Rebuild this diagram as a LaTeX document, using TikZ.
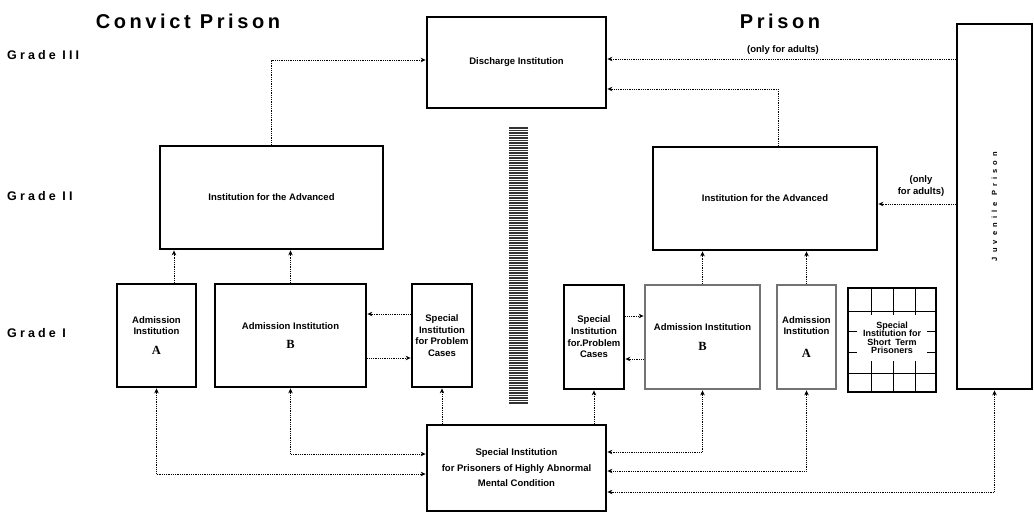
\documentclass[tikz,border=0pt]{standalone}
\usepackage{fontspec}
\setmainfont{Liberation Sans}
\newfontfamily\widefont[LetterSpace=18]{Liberation Sans}
\newfontfamily\widerfont[LetterSpace=25]{Liberation Sans}
\newfontfamily\widestfont[LetterSpace=55]{Liberation Sans}
\newfontfamily\letterfont{Liberation Serif}
\usetikzlibrary{arrows.meta}
\tikzstyle{inst}=[draw, line width=2.8pt, inner sep=0.5pt, align=center, font=\bfseries\fontsize{9.5}{11}\selectfont]
\tikzstyle{pale}=[inst, draw=black!55]
\tikzstyle{narrowinst}=[inst, font=\bfseries\fontsize{9.5}{11.6}\selectfont]
\tikzstyle{link}=[line width=0.7pt, dash pattern=on 0.8pt off 1pt, -{Stealth[length=5pt,width=4.5pt]}]
\tikzstyle{twoway}=[link, {Stealth[length=5pt,width=4.5pt]}-{Stealth[length=5pt,width=4.5pt]}]
\tikzstyle{grade}=[anchor=west, inner sep=0pt, font=\widerfont\bfseries\fontsize{12.5}{14}\selectfont]
\tikzstyle{heading}=[inner sep=0pt, font=\widefont\bfseries\fontsize{20}{24}\selectfont]
\tikzstyle{note}=[inner sep=1pt, align=center, font=\bfseries\fontsize{9.5}{11.5}\selectfont]
\newcommand{\bigletter}[1]{{\letterfont\bfseries\fontsize{12.5}{12.5}\selectfont #1}}

\begin{document}
\begin{tikzpicture}[x=1pt,y=-1pt]
    \useasboundingbox (0,0) rectangle (1034,513);
    % headings
    \node[heading] (convict) at (188,21) {Convict Prison};
    \node[heading] (prison)  at (780,21) {Prison};
    \node[grade] (g3) at (7,55)  {Grade III};
    \node[grade] (g2) at (7,196) {Grade II};
    \node[grade] (g1) at (7,333) {Grade I};

    % grade III and II
    \node[inst, minimum width=179, minimum height=91]  (dis)  at (516.5,62.5) {Discharge Institution};
    \node[inst, minimum width=223, minimum height=103] (advL) at (271.5,197.5) {Institution for the Advanced};
    \node[inst, minimum width=224, minimum height=103] (advR) at (765,198.5) {Institution for the Advanced};

    % grade I, convict side
    \node[inst, minimum width=79, minimum height=103]  (admAL) at (156.5,335.5) {Admission\\Institution\\[9pt]\bigletter{A}};
    \node[inst, minimum width=151, minimum height=103] (admBL) at (290.5,335.5) {Admission Institution\\[8pt]\bigletter{B}};
    \node[narrowinst, minimum width=60, minimum height=103] (probL) at (442,335.5) {Special\\Institution\\for Problem\\Cases};

    % grade I, prison side
    \node[narrowinst, minimum width=60, minimum height=104] (probR) at (594,337) {Special\\Institution\\for.Problem\\Cases};
    \node[pale, minimum width=115, minimum height=104] (admBR) at (702.5,337) {Admission Institution\\[9pt]\bigletter{B}};
    \node[pale, minimum width=59, minimum height=104]  (admAR) at (806.5,337) {Admission\\Institution\\[12pt]\bigletter{A}};
    \node[inst, minimum width=88, minimum height=104]  (shortR) at (892,340) {};
    \foreach \gx in {871,893,915}
        \draw[line width=0.9pt] (\gx,288) -- (\gx,392);
    \foreach \gy in {311,331,352,373}
        \draw[line width=0.9pt] (848,\gy) -- (936,\gy);
    \node[note, fill=white, minimum width=70, minimum height=46, font=\bfseries\fontsize{9}{8.5}\selectfont] (shortT) at (892,338) {Special\\Institution for\\Short\enspace Term\\Prisoners};

    % juvenile prison
    \node[inst, minimum width=75, minimum height=365] (juv) at (994.5,206.5) {};
    \node[rotate=90, font=\widestfont\bfseries\fontsize{7.5}{8}\selectfont] (juvT) at (juv) {Juvenile Prison};

    % bottom
    \node[inst, minimum width=179, minimum height=86, font=\bfseries\fontsize{9.5}{15.5}\selectfont] (abn) at (516.5,468) {Special Institution\\for Prisoners of Highly Abnormal\\Mental Condition};

    % separating wall
    \node[fill=black!80, minimum width=19, minimum height=277, inner sep=0pt] (wall) at (518,265.5) {};
    \foreach \wy in {129,131.5,...,404}
        \draw[white, line width=0.5pt] (wall.west |- 0,\wy) -- (wall.east |- 0,\wy);

    % notes
    \node[note] (adultsA) at (783,50) {(only for adults)};
    \node[note] (adultsB) at (921,186) {(only\\for adults)};

    % connectors
    \draw[link] (advL.north) |- (dis.west |- 0,60);
    \draw[link] (juv.west |- 0,59) -- (dis.east |- 0,59);
    \draw[link] (advR.north -| 778,0) |- (dis.east |- 0,89);
    \draw[link] (juv.west |- 0,204) -- (advR.east |- 0,204);
    \draw[link] (admAL.north -| 174,0) -- (advL.south -| 174,0);
    \draw[link] (admBL.north) -- (admBL.north |- advL.south);
    \draw[link] (admBR.north) -- (admBR.north |- advR.south);
    \draw[link] (admAR.north) -- (admAR.north |- advR.south);
    \draw[link] (probL.west |- 0,314) -- (admBL.east |- 0,314);
    \draw[link] (admBL.east |- 0,358) -- (probL.west |- 0,358);
    \draw[link] (probR.east |- 0,316) -- (admBR.west |- 0,316);
    \draw[link] (admBR.west |- 0,359) -- (probR.east |- 0,359);
    \draw[link] (abn.north -| probL) -- (probL.south);
    \draw[link] (abn.north -| probR) -- (probR.south);
    \draw[twoway] (admAL.south) |- (abn.west |- 0,474);
    \draw[twoway] (admBL.south) |- (abn.west |- 0,454);
    \draw[twoway] (admBR.south) |- (abn.east |- 0,452);
    \draw[twoway] (admAR.south) |- (abn.east |- 0,471);
    \draw[twoway] (juv.south) |- (abn.east |- 0,492);
\end{tikzpicture}
\end{document}
